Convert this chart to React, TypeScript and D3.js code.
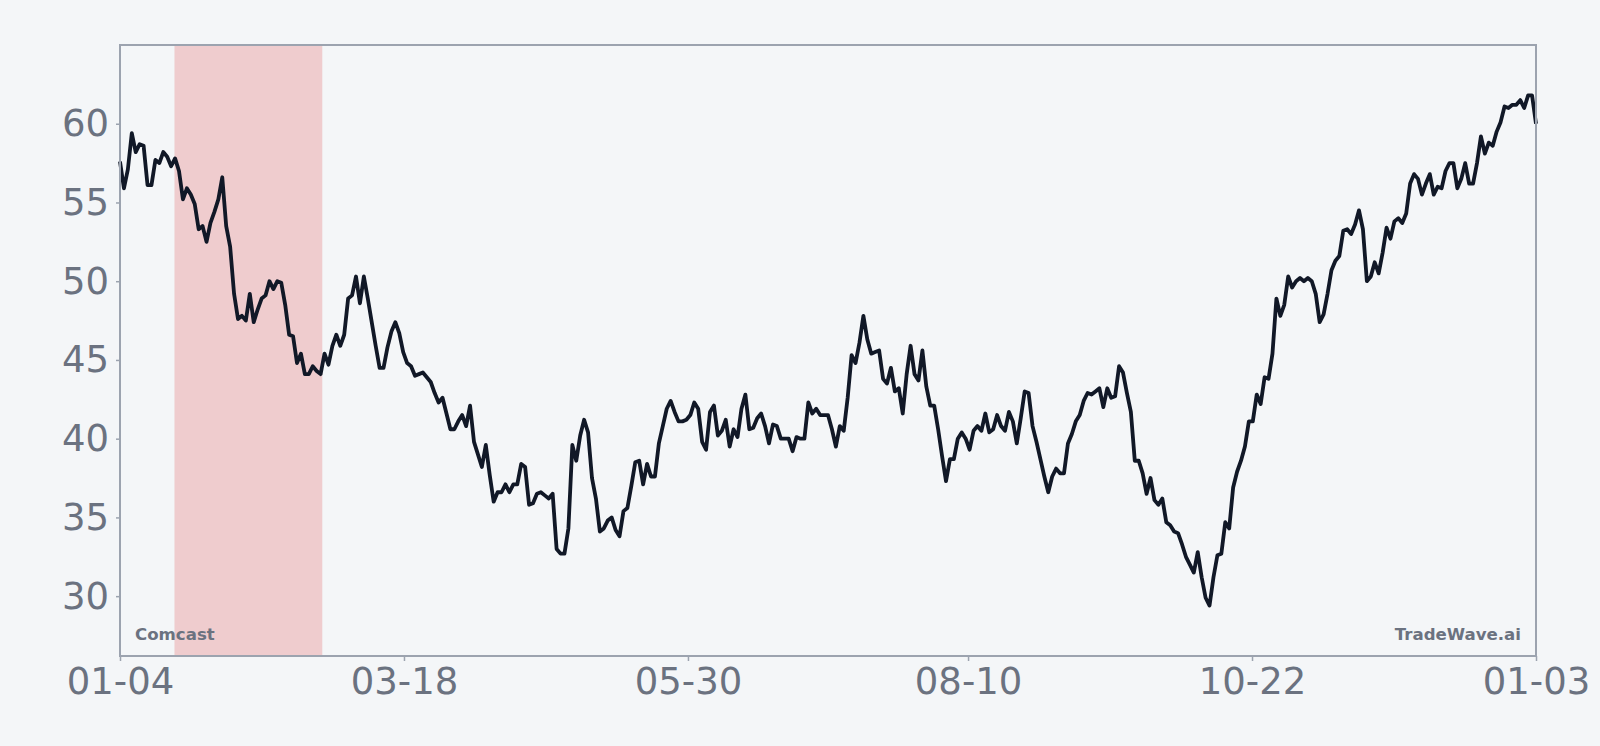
import React, { useEffect, useRef } from "react";
import * as d3 from "d3";

// daily closes, 01-04 through 01-03 of the next year
const closes: number[] = [
  57.6, 55.9, 57.1, 59.4, 58.2, 58.7, 58.6, 56.1, 56.1, 57.7, 57.5, 58.2, 57.9, 57.3, 57.8, 57.0,
  55.2, 55.9, 55.5, 54.9, 53.3, 53.5, 52.5, 53.7, 54.4, 55.2, 56.6, 53.5, 52.2, 49.2, 47.6, 47.8,
  47.5, 49.2, 47.4, 48.2, 48.9, 49.1, 50.0, 49.5, 50.0, 49.9, 48.5, 46.6, 46.5, 44.8, 45.4, 44.1,
  44.1, 44.6, 44.3, 44.1, 45.4, 44.7, 45.9, 46.6, 45.9, 46.6, 48.9, 49.1, 50.3, 48.6, 50.3, 48.9,
  47.4, 45.9, 44.5, 44.5, 45.8, 46.8, 47.4, 46.7, 45.5, 44.8, 44.6, 44.0, 44.1, 44.2, 43.9, 43.6,
  42.9, 42.3, 42.6, 41.6, 40.6, 40.6, 41.1, 41.5, 40.8, 42.1, 39.8, 39.0, 38.2, 39.6, 37.7, 36.0,
  36.6, 36.6, 37.1, 36.6, 37.1, 37.1, 38.4, 38.2, 35.8, 35.9, 36.5, 36.6, 36.4, 36.2, 36.5, 33.0,
  32.7, 32.7, 34.3, 39.6, 38.6, 40.2, 41.2, 40.4, 37.5, 36.2, 34.1, 34.3, 34.8, 35.0, 34.2, 33.8,
  35.4, 35.6, 37.0, 38.5, 38.6, 37.1, 38.4, 37.6, 37.6, 39.7, 40.8, 41.9, 42.4, 41.7, 41.1, 41.1,
  41.2, 41.5, 42.3, 41.9, 39.8, 39.3, 41.7, 42.1, 40.2, 40.5, 41.2, 39.5, 40.6, 40.1, 41.9, 42.8,
  40.6, 40.7, 41.3, 41.6, 40.8, 39.7, 40.9, 40.8, 40.0, 40.0, 40.0, 39.2, 40.1, 40.0, 40.0, 42.3,
  41.6, 41.9, 41.5, 41.5, 41.5, 40.6, 39.5, 40.8, 40.5, 42.6, 45.3, 44.8, 46.1, 47.8, 46.3, 45.4,
  45.5, 45.6, 43.8, 43.5, 44.5, 43.0, 43.2, 41.6, 44.1, 45.9, 44.1, 43.7, 45.6, 43.3, 42.1, 42.1,
  40.6, 38.9, 37.3, 38.7, 38.7, 40.0, 40.4, 40.0, 39.3, 40.5, 40.8, 40.5, 41.6, 40.4, 40.6, 41.5,
  40.8, 40.5, 41.7, 41.1, 39.7, 41.3, 43.0, 42.9, 40.8, 39.8, 38.7, 37.6, 36.6, 37.6, 38.1, 37.8,
  37.8, 39.7, 40.3, 41.1, 41.5, 42.4, 42.9, 42.8, 43.0, 43.2, 42.0, 43.2, 42.6, 42.7, 44.6, 44.2,
  42.9, 41.7, 38.6, 38.6, 37.8, 36.5, 37.5, 36.1, 35.8, 36.2, 34.7, 34.5, 34.1, 34.0, 33.3, 32.5,
  32.0, 31.5, 32.8, 31.2, 29.9, 29.4, 31.2, 32.6, 32.7, 34.7, 34.3, 36.9, 37.9, 38.6, 39.5, 41.1,
  41.1, 42.8, 42.2, 43.9, 43.8, 45.4, 48.9, 47.8, 48.5, 50.3, 49.6, 50.0, 50.2, 50.0, 50.2, 50.0,
  49.2, 47.4, 47.9, 49.2, 50.7, 51.3, 51.6, 53.2, 53.3, 53.0, 53.6, 54.5, 53.3, 50.0, 50.3, 51.2,
  50.5, 51.8, 53.4, 52.7, 53.8, 54.0, 53.7, 54.3, 56.2, 56.8, 56.5, 55.5, 56.2, 56.8, 55.5, 56.0,
  55.9, 57.0, 57.5, 57.5, 55.9, 56.5, 57.5, 56.2, 56.2, 57.5, 59.2, 58.1, 58.8, 58.6, 59.5, 60.1,
  61.1, 61.0, 61.2, 61.2, 61.5, 61.0, 61.8, 61.8, 60.0,
];

const startDate = new Date(2023, 0, 4);
const endDate = new Date(2024, 0, 3);
const shadeRange: Date[] = [new Date(2023, 0, 18), new Date(2023, 1, 25)];
const xTickDates: Date[] = [
  new Date(2023, 0, 4),
  new Date(2023, 2, 18),
  new Date(2023, 4, 30),
  new Date(2023, 7, 10),
  new Date(2023, 9, 22),
  new Date(2024, 0, 3),
];
const yTicks: number[] = [30, 35, 40, 45, 50, 55, 60];
const tickerLabel = "Comcast";
const brandLabel = "TradeWave.ai";

const W = 1600;
const H = 746;
const margin = { top: 45, right: 64, bottom: 90, left: 120 };
const bg = "#f4f6f8";
const spineColor = "#9ca3af";
const labelColor = "#6b7280";
const font = "'DejaVu Sans', sans-serif";

const App: React.FC = () => {
  const svgRef = useRef<SVGSVGElement>(null);

  useEffect(() => {
    document.body.style.margin = "0";
    document.body.style.background = bg;
    if (!svgRef.current) return;
    const svg = d3.select(svgRef.current);
    svg.selectAll("*").remove();

    const innerW = W - margin.left - margin.right;
    const innerH = H - margin.top - margin.bottom;

    const x = d3.scaleTime().domain([startDate, endDate]).range([0, innerW]);
    const y = d3.scaleLinear().domain([26.2, 65]).range([innerH, 0]);

    const span = endDate.getTime() - startDate.getTime();
    const points = closes.map((v, i) => ({
      date: new Date(startDate.getTime() + (span * i) / (closes.length - 1)),
      value: v,
    }));

    svg.append("rect").attr("width", W).attr("height", H).attr("fill", bg);

    const g = svg
      .append("g")
      .attr("transform", `translate(${margin.left},${margin.top})`);

    g.append("rect")
      .attr("x", x(shadeRange[0]))
      .attr("y", 0)
      .attr("width", x(shadeRange[1]) - x(shadeRange[0]))
      .attr("height", innerH)
      .attr("fill", "rgba(220,38,38,0.2)");

    const line = d3
      .line<{ date: Date; value: number }>()
      .x((d) => x(d.date))
      .y((d) => y(d.value));

    g.append("path")
      .datum(points)
      .attr("d", line)
      .attr("fill", "none")
      .attr("stroke", "#111827")
      .attr("stroke-width", 3.8)
      .attr("stroke-linejoin", "round");

    // frame
    g.append("rect")
      .attr("width", innerW)
      .attr("height", innerH)
      .attr("fill", "none")
      .attr("stroke", spineColor)
      .attr("stroke-width", 2);

    const xAxis = g
      .append("g")
      .attr("transform", `translate(0,${innerH})`)
      .call(
        d3
          .axisBottom(x)
          .tickValues(xTickDates)
          .tickFormat((d) => d3.timeFormat("%m-%d")(d as Date))
          .tickSize(5)
          .tickPadding(7)
      );
    xAxis.select(".domain").remove();
    xAxis.selectAll(".tick line").attr("stroke", spineColor).attr("stroke-width", 1.5);
    xAxis
      .selectAll(".tick text")
      .attr("fill", labelColor)
      .style("font-family", font)
      .style("font-size", "37px");

    const yAxis = g
      .append("g")
      .call(d3.axisLeft(y).tickValues(yTicks).tickSize(4).tickPadding(7));
    yAxis.select(".domain").remove();
    yAxis.selectAll(".tick line").attr("stroke", spineColor).attr("stroke-width", 1.5);
    yAxis
      .selectAll(".tick text")
      .attr("fill", labelColor)
      .style("font-family", font)
      .style("font-size", "37px");

    g.append("text")
      .attr("x", 15)
      .attr("y", innerH - 16)
      .attr("fill", labelColor)
      .style("font-family", font)
      .style("font-size", "16.6px")
      .style("font-weight", "bold")
      .text(tickerLabel);

    g.append("text")
      .attr("x", innerW - 15)
      .attr("y", innerH - 16)
      .attr("text-anchor", "end")
      .attr("fill", labelColor)
      .style("font-family", font)
      .style("font-size", "16.6px")
      .style("font-weight", "bold")
      .text(brandLabel);
  }, []);

  return <svg ref={svgRef} width={W} height={H} style={{ display: "block" }} />;
};

export default App;
